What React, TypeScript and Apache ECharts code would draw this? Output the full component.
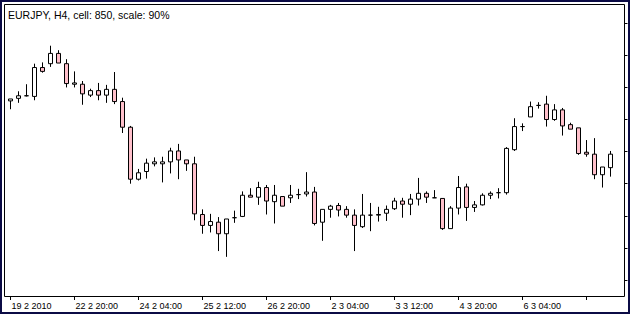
import React, { useEffect, useRef } from "react";
import * as echarts from "echarts";

const chartTitle = "EURJPY, H4, cell: 850, scale: 90%";

// tick labels every 8 candles (H4)
const xTickLabels = [
  "19 2 2010",
  "22 2 20:00",
  "24 2 04:00",
  "25 2 12:00",
  "26 2 20:00",
  "2 3 04:00",
  "3 3 12:00",
  "4 3 20:00",
  "6 3 04:00",
];

const yTicks = [120.5, 121.0, 121.5, 122.0, 122.5, 123.0, 123.5, 124.0, 124.5];

// OHLC values
const opens = [
  123.29, 123.33, 123.37, 123.36, 123.81, 123.87, 124.03, 123.87, 123.55, 123.55,
  123.38, 123.45, 123.38, 123.47, 123.28, 122.88, 122.07, 122.19, 122.31, 122.31,
  122.34, 122.51, 122.37, 122.31, 121.52, 121.35, 121.40, 121.22, 121.47, 121.49,
  121.82, 121.79, 121.94, 121.72, 121.80, 121.78, 121.83, 121.84, 121.87, 121.40,
  121.60, 121.66, 121.60, 121.51, 121.33, 121.51, 121.51, 121.54, 121.61, 121.73,
  121.68, 121.76, 121.85, 121.78, 121.77, 121.30, 121.62, 121.95, 121.63, 121.67,
  121.82, 121.86, 121.86, 122.53, 122.89, 123.04, 123.22, 123.24, 123.00, 123.15,
  122.92, 122.87, 122.49, 122.46, 122.14, 122.25,
];
const closes = [
  123.32, 123.37, 123.37, 123.81, 123.75, 124.03, 123.88, 123.56, 123.57, 123.40,
  123.45, 123.38, 123.47, 123.28, 122.88, 122.07, 122.17, 122.32, 122.34, 122.34,
  122.51, 122.37, 122.31, 121.53, 121.35, 121.41, 121.22, 121.45, 121.47, 121.82,
  121.79, 121.94, 121.73, 121.82, 121.65, 121.82, 121.83, 121.87, 121.38, 121.60,
  121.65, 121.59, 121.51, 121.35, 121.51, 121.51, 121.52, 121.60, 121.73, 121.68,
  121.76, 121.85, 121.79, 121.78, 121.30, 121.62, 121.94, 121.63, 121.67, 121.82,
  121.85, 121.86, 122.55, 122.89, 122.89, 123.20, 123.22, 123.00, 123.15, 122.90,
  122.85, 122.47, 122.46, 122.14, 122.26, 122.46,
];
const lows = [
  123.16, 123.26, 123.36, 123.30, 123.73, 123.82, 123.88, 123.50, 123.50, 123.23,
  123.35, 123.30, 123.26, 123.24, 122.79, 122.00, 122.05, 122.08, 122.27, 122.02,
  122.16, 122.07, 122.20, 121.43, 121.22, 121.24, 120.95, 120.86, 121.39, 121.48,
  121.79, 121.67, 121.52, 121.38, 121.65, 121.70, 121.76, 121.80, 121.35, 121.11,
  121.47, 121.49, 121.47, 120.95, 121.31, 121.26, 121.41, 121.42, 121.59, 121.47,
  121.51, 121.66, 121.70, 121.78, 121.28, 121.30, 121.52, 121.42, 121.56, 121.66,
  121.76, 121.77, 121.83, 122.51, 122.82, 123.04, 123.17, 122.89, 122.98, 122.75,
  122.85, 122.45, 122.42, 122.07, 121.94, 122.11,
];
const highs = [
  123.32, 123.44, 123.55, 123.87, 123.89, 124.15, 124.08, 123.94, 123.75, 123.60,
  123.48, 123.57, 123.54, 123.74, 123.34, 122.90, 122.23, 122.39, 122.41, 122.42,
  122.56, 122.62, 122.37, 122.42, 121.60, 121.53, 121.48, 121.45, 121.58, 121.88,
  121.93, 122.03, 121.98, 121.98, 121.80, 121.98, 121.92, 122.18, 121.95, 121.60,
  121.67, 121.70, 121.65, 121.60, 121.84, 121.70, 121.64, 121.66, 121.78, 121.78,
  121.84, 122.09, 121.88, 121.90, 121.77, 121.65, 122.12, 122.00, 121.73, 121.85,
  121.88, 121.93, 122.57, 123.02, 122.94, 123.28, 123.27, 123.37, 123.24, 123.18,
  122.95, 122.87, 122.68, 122.71, 122.26, 122.51,
];

const Y_MIN = 120.25;
const Y_MAX = 124.8;

export default function App() {
  const ref = useRef<HTMLDivElement>(null);
  useEffect(() => {
    if (!ref.current) return;
    const chart = echarts.init(ref.current, undefined, { renderer: "svg" });
    const categories = opens.map((_, i) => String(i));
    const data = opens.map((o, i) => [o, closes[i], lows[i], highs[i]]);
    const font = "Liberation Sans, Arial, sans-serif";
    chart.setOption({
      animation: false,
      backgroundColor: "#ffffff",
      grid: { left: 6.5, right: 7.5, top: 4, bottom: 18, containLabel: false },
      xAxis: {
        type: "category",
        data: categories,
        max: 76,
        boundaryGap: true,
        axisLine: { show: false },
        axisTick: {
          show: true,
          alignWithLabel: true,
          interval: (i: number) => i % 8 === 0,
          length: 4,
          lineStyle: { color: "#000", width: 1 },
        },
        axisLabel: {
          show: true,
          interval: (i: number) => i % 8 === 0,
          formatter: (v: string) => {
            const i = Number(v);
            return i % 8 === 0 && xTickLabels[i / 8] ? xTickLabels[i / 8] : "";
          },
          align: "left",
          margin: 5,
          fontSize: 9,
          fontFamily: font,
          color: "#000",
          padding: [0, 0, 0, 1],
        },
        splitLine: { show: false },
      },
      yAxis: {
        type: "value",
        position: "right",
        offset: 2,
        min: Y_MIN,
        max: Y_MAX,
        scale: true,
        axisLine: { show: false },
        axisTick: {
          show: true,
          length: 3,
          customValues: yTicks,
          lineStyle: { color: "#000", width: 1 },
        },
        axisLabel: { show: false },
        splitLine: { show: false },
      },
      series: [
        {
          type: "candlestick",
          data,
          barWidth: 4,
          itemStyle: {
            color: "#ffffff",
            color0: "#ffc0cb",
            borderColor: "#000000",
            borderColor0: "#000000",
            borderColorDoji: "#000000",
            borderWidth: 1,
          },
        },
      ],
      graphic: [
        {
          type: "rect",
          silent: true,
          z: 0,
          shape: { x: 1, y: 1, width: 628, height: 312 },
          style: { fill: "none", stroke: "#0b0b45", lineWidth: 2 },
        },
        {
          type: "rect",
          silent: true,
          z: 0,
          shape: { x: 4.5, y: 4.5, width: 620, height: 292 },
          style: { fill: "none", stroke: "#000000", lineWidth: 1 },
        },
        {
          type: "text",
          silent: true,
          x: 8,
          y: 15,
          style: {
            text: chartTitle,
            font: "10.5px " + font,
            fill: "#000",
            verticalAlign: "middle",
            align: "left",
          },
        },
      ],
    });
    return () => chart.dispose();
  }, []);
  return (
    <div
      ref={ref}
      style={{ position: "absolute", left: 0, top: 0, width: 630, height: 314 }}
    />
  );
}
